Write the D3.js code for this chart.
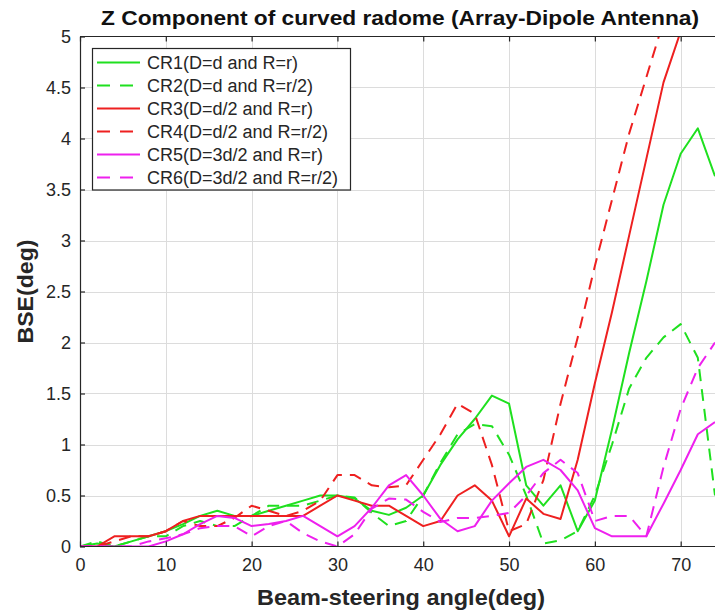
<!DOCTYPE html>
<html>
<head>
<meta charset="utf-8">
<script src="https://cdn.jsdelivr.net/npm/d3@7"></script>
<style>
  html, body { margin: 0; padding: 0; background: #fff; }
  svg { display: block; font-family: "Liberation Sans", Arial, Helvetica, sans-serif; }
</style>
</head>
<body>
<svg id="chart" width="715" height="612"></svg>
<script>
// Beam-steering angle samples (deg)
const angles = [0, 2, 4, 6, 8, 10, 12, 14, 16, 18, 20, 22, 24, 26, 28, 30, 32, 34, 36,
  38, 40, 42, 44, 46, 48, 50, 52, 54, 56, 58, 60, 62, 64, 66, 68, 70, 72, 74];

// BSE (deg) for each radome configuration
const cr1 = [0, 0.03, 0, 0.05, 0.1, 0.15, 0.22, 0.3, 0.35, 0.3, 0.3, 0.35, 0.4, 0.45, 0.5, 0.5, 0.47, 0.35, 0.31,
  0.38, 0.5, 0.8, 1.05, 1.25, 1.48, 1.4, 0.6, 0.4, 0.6, 0.15, 0.45, 1.15, 1.9, 2.6, 3.35, 3.85, 4.1, 3.63];
const cr2 = [0, 0.05, 0, 0.05, 0.1, 0.1, 0.2, 0.25, 0.2, 0.2, 0.3, 0.4, 0.4, 0.4, 0.45, 0.5, 0.48, 0.33, 0.2,
  0.25, 0.5, 0.82, 1.1, 1.2, 1.18, 0.9, 0.5, 0.03, 0.06, 0.15, 0.5, 1.0, 1.55, 1.85, 2.05, 2.18, 1.85, 0.5];
const cr3 = [0, 0, 0.1, 0.1, 0.1, 0.15, 0.25, 0.3, 0.3, 0.3, 0.3, 0.3, 0.3, 0.3, 0.4, 0.5, 0.45, 0.4, 0.4,
  0.3, 0.2, 0.25, 0.5, 0.6, 0.45, 0.1, 0.47, 0.32, 0.27, 0.85, 1.6, 2.3, 3.05, 3.8, 4.55, 5.05, 5.5, 6.0];
const cr4 = [0, 0, 0.05, 0.1, 0.1, 0.15, 0.25, 0.2, 0.2, 0.28, 0.4, 0.35, 0.3, 0.35, 0.45, 0.7, 0.7, 0.6, 0.58,
  0.6, 0.85, 1.1, 1.4, 1.3, 0.8, 0.15, 0.22, 0.65, 1.4, 2.05, 2.75, 3.4, 4.05, 4.6, 5.15, 5.7, 6.2, 6.7];
const cr5 = [0, 0, 0, 0, 0, 0.05, 0.12, 0.22, 0.3, 0.28, 0.2, 0.22, 0.25, 0.3, 0.2, 0.1, 0.2, 0.38, 0.6,
  0.7, 0.5, 0.27, 0.15, 0.2, 0.45, 0.62, 0.78, 0.85, 0.75, 0.55, 0.18, 0.1, 0.1, 0.1, 0.42, 0.75, 1.1, 1.22];
const cr6 = [0, 0, 0, 0, 0.05, 0.08, 0.12, 0.18, 0.2, 0.2, 0.1, 0.2, 0.25, 0.13, 0.05, 0, 0.12, 0.37, 0.47,
  0.46, 0.34, 0.24, 0.28, 0.28, 0.3, 0.33, 0.5, 0.72, 0.85, 0.72, 0.25, 0.3, 0.3, 0.1, 0.78, 1.35, 1.75, 2.0];

const seriesNames = ["CR1(D=d and R=r)", "CR2(D=d and R=r/2)", "CR3(D=d/2 and R=r)",
  "CR4(D=d/2 and R=r/2)", "CR5(D=3d/2 and R=r)", "CR6(D=3d/2 and R=r/2)"];
const seriesValues = [cr1, cr2, cr3, cr4, cr5, cr6];
const seriesColors = ["#1fe01f", "#1fe01f", "#ee2020", "#ee2020", "#ee20ee", "#ee20ee"];
const seriesDashed = [false, true, false, true, false, true];

const xTicks = [0, 10, 20, 30, 40, 50, 60, 70];
const yTicks = [0, 0.5, 1, 1.5, 2, 2.5, 3, 3.5, 4, 4.5, 5];

const titleText = "Z Component of curved radome (Array-Dipole Antenna)";
const xLabelText = "Beam-steering angle(deg)";
const yLabelText = "BSE(deg)";

const svg = d3.select("#chart");
const plotLeft = 80, plotRight = 715, plotTop = 36.5, plotBottom = 546.5;
const axisColor = "#262626";

const x = d3.scaleLinear().domain([0, 74]).range([plotLeft, plotRight]);
const y = d3.scaleLinear().domain([0, 5]).range([plotBottom, plotTop]);

// grid
const grid = svg.append("g").attr("stroke", "#dcdcdc").attr("stroke-width", 1);
grid.selectAll("line.v").data(xTicks.filter(d => d > 0)).join("line")
  .attr("x1", d => Math.round(x(d)) + 0.5).attr("x2", d => Math.round(x(d)) + 0.5)
  .attr("y1", plotTop).attr("y2", plotBottom);
grid.selectAll("line.h").data(yTicks.filter(d => d > 0 && d < 5)).join("line")
  .attr("y1", d => Math.round(y(d)) + 0.5).attr("y2", d => Math.round(y(d)) + 0.5)
  .attr("x1", plotLeft).attr("x2", plotRight);

// data lines, clipped to the axes box
svg.append("clipPath").attr("id", "plotClip").append("rect")
  .attr("x", plotLeft).attr("y", plotTop).attr("width", plotRight - plotLeft).attr("height", plotBottom - plotTop);

const line = d3.line().x((d, i) => x(angles[i])).y(d => y(d));
const plot = svg.append("g").attr("clip-path", "url(#plotClip)");
seriesValues.forEach((vals, k) => {
  plot.append("path")
    .datum(vals)
    .attr("d", line)
    .attr("fill", "none")
    .attr("stroke", seriesColors[k])
    .attr("stroke-width", 2)
    .attr("stroke-linejoin", "round")
    .attr("stroke-dasharray", seriesDashed[k] ? "12,8" : null);
});

// axes
const styleAxis = g => {
  g.select(".domain").attr("stroke", axisColor).attr("stroke-width", 1.2);
  g.selectAll(".tick line").attr("stroke", axisColor).attr("stroke-width", 1.2);
  g.selectAll(".tick text").attr("fill", axisColor).attr("font-size", 18);
};

svg.append("g").attr("transform", `translate(0,${plotBottom})`)
  .call(d3.axisBottom(x).tickValues(xTicks).tickFormat(d3.format("d")).tickSize(-5).tickSizeOuter(0).tickPadding(12))
  .call(styleAxis)
  .call(g => g.select(".domain").remove());

svg.append("g").attr("transform", `translate(0,${plotTop})`)
  .call(d3.axisTop(x).tickValues(xTicks).tickFormat("").tickSize(-5).tickSizeOuter(0))
  .call(styleAxis)
  .call(g => g.select(".domain").remove());

svg.append("g").attr("transform", `translate(${plotLeft},0)`)
  .call(d3.axisLeft(y).tickValues(yTicks).tickFormat(d3.format("~g")).tickSize(-5).tickSizeOuter(0).tickPadding(9))
  .call(styleAxis);

// box lines (top and bottom)
svg.append("line").attr("x1", plotLeft).attr("x2", plotRight).attr("y1", plotTop).attr("y2", plotTop)
  .attr("stroke", axisColor).attr("stroke-width", 1.2);
svg.append("line").attr("x1", plotLeft).attr("x2", plotRight).attr("y1", plotBottom).attr("y2", plotBottom)
  .attr("stroke", axisColor).attr("stroke-width", 1.2);

// titles
svg.append("text").attr("x", 400).attr("y", 25).attr("text-anchor", "middle")
  .attr("font-weight", "bold").attr("font-size", 20).attr("fill", "#111")
  .attr("textLength", 598).attr("lengthAdjust", "spacingAndGlyphs")
  .text(titleText);
svg.append("text").attr("x", 401).attr("y", 605).attr("text-anchor", "middle")
  .attr("font-weight", "bold").attr("font-size", 22).attr("fill", axisColor)
  .attr("textLength", 288).attr("lengthAdjust", "spacingAndGlyphs")
  .text(xLabelText);
svg.append("text").attr("transform", `translate(33,${(plotTop + plotBottom) / 2}) rotate(-90)`)
  .attr("text-anchor", "middle")
  .attr("font-weight", "bold").attr("font-size", 22).attr("fill", axisColor)
  .attr("textLength", 104).attr("lengthAdjust", "spacingAndGlyphs")
  .text(yLabelText);

// legend
const lg = svg.append("g");
lg.append("rect").attr("x", 92.5).attr("y", 48.5).attr("width", 258).attr("height", 141.5)
  .attr("fill", "#fff").attr("stroke", axisColor).attr("stroke-width", 1.2);
seriesNames.forEach((name, k) => {
  const ry = 62.5 + k * 23;
  lg.append("line").attr("x1", 97).attr("x2", 140).attr("y1", ry).attr("y2", ry)
    .attr("stroke", seriesColors[k]).attr("stroke-width", 2)
    .attr("stroke-dasharray", seriesDashed[k] ? "13,10" : null);
  lg.append("text").attr("x", 147).attr("y", ry).attr("dy", "0.36em")
    .attr("font-size", 18).attr("fill", axisColor)
    .text(name);
});
</script>
</body>
</html>
